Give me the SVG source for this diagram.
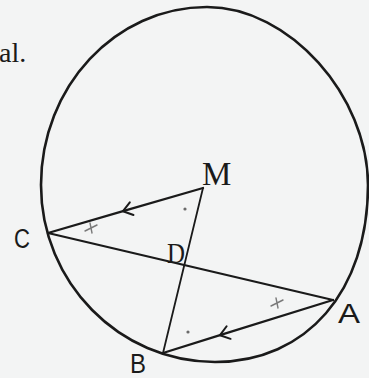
<svg xmlns="http://www.w3.org/2000/svg" width="369" height="378" viewBox="0 0 369 378">
<style>
.bg{fill:#f3f4f4}
.circ{fill:none;stroke:#1a1a1a;stroke-width:2.6}
.seg{fill:none;stroke:#1a1a1a;stroke-width:2.3;stroke-linecap:round}
.thin{fill:none;stroke:#1a1a1a;stroke-width:1.8;stroke-linecap:round}
.tick{fill:none;stroke:#7a7a7a;stroke-width:1.4;stroke-linecap:round}
.dot{fill:#6a6a6a}
.serif{font-family:"Liberation Serif","Times New Roman",serif;fill:#1a1a1a}
.sans{font-family:"Liberation Sans",Arial,sans-serif;fill:#1a1a1a}
</style>
<defs>
<marker id="chev" markerUnits="userSpaceOnUse" markerWidth="20" markerHeight="20" refX="10" refY="10" orient="auto" overflow="visible">
<path d="M1,3.4 L10,10 L1,16.6" fill="none" stroke="#1a1a1a" stroke-width="2" stroke-linecap="round" stroke-linejoin="round"/>
</marker>
</defs>
<rect class="bg" x="0" y="0" width="369" height="378"/>
<text class="serif" x="-1" y="62" font-size="28">al.</text>
<g id="circle">
<path class="circ" d="M207,7 C289.5,7 368,96 368,185 C368,291 306.8,362 215,362 C119.3,362 41,282.4 41,185 C41,86.7 115.3,7 207,7 Z"/>
</g>
<g id="connectors">
<path id="MC" class="seg" d="M203,188 L123,211.2 L48,233" marker-mid="url(#chev)"/>
<path id="CA" class="seg" d="M48,233 L333,300"/>
<path id="AB" class="seg" d="M333,300 L220,335.2 L163,353" marker-mid="url(#chev)"/>
<path id="MB" class="thin" d="M203,188 L163,353"/>
</g>
<g id="marks">
<path class="tick" d="M85,231 L97,225 M90,223 L92,233"/>
<path class="tick" d="M271,306 L283,300 M276,298 L278,308"/>
<circle class="dot" cx="185" cy="209" r="1.6"/>
<circle class="dot" cx="188" cy="332" r="1.6"/>
</g>
<g id="node-M"><text class="serif" x="202" y="185" font-size="33">M</text></g>
<g id="node-D"><text class="serif" x="167" y="263" font-size="29" textLength="18" lengthAdjust="spacingAndGlyphs">D</text></g>
<g id="node-C"><text class="sans" x="14" y="248" font-size="27" textLength="16" lengthAdjust="spacingAndGlyphs">C</text></g>
<g id="node-A"><text class="sans" x="338" y="323" font-size="28" textLength="22" lengthAdjust="spacingAndGlyphs">A</text></g>
<g id="node-B"><text class="sans" x="130" y="373" font-size="27" textLength="16" lengthAdjust="spacingAndGlyphs">B</text></g>
</svg>
